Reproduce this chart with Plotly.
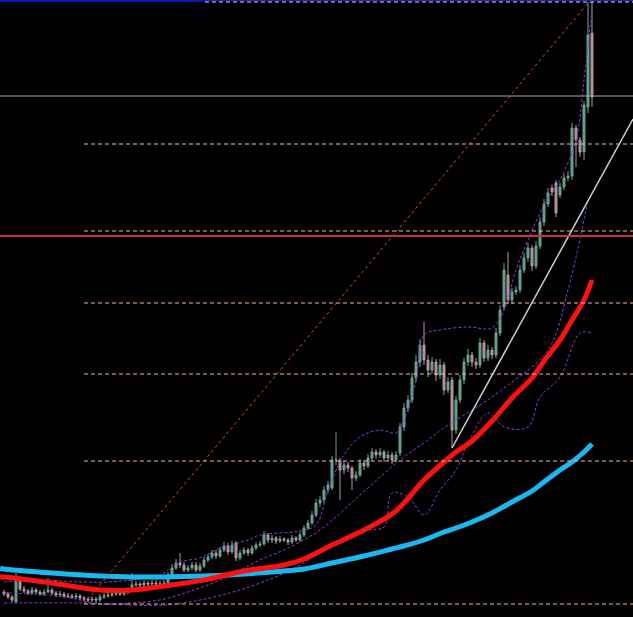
import plotly.graph_objects as go

# ---------------- data (price units) ----------------
bar_index = list(range(148))

opens = [25,23,20,15,37,28,26,24,27,25,23,25,27,24,22,23,21,21,20,21,19,18,17,18,17,
         20,21,22,23,24,23,25,27,32,33,32,34,33,34,33,33,
         34,42,49,54,52,47,49,52,47,51,57,60,64,61,67,71,65,74,59,64,67,64,69,72,
         73,82,77,79,76,78,77,75,79,77,82,89,94,102,114,117,127,
         129,157,157,147,152,149,139,142,154,151,159,165,162,165,159,162,157,
         164,190,209,217,239,255,272,257,247,255,242,252,227,237,187,217,237,255,262,255,252,274,259,267,
         262,284,310,342,317,325,327,347,359,369,351,
         371,395,413,429,434,422,430,439,441,489,477,465,510,584]
highs = [27,25,22,44,39,31,28,30,29,27,28,39,29,26,26,25,24,23,24,23,21,20,21,20,23,
         24,25,26,27,26,28,30,44,36,35,37,36,37,37,36,37,
         45,53,58,64,55,52,55,55,54,60,63,67,67,70,75,74,76,76,67,70,69,72,75,76,
         86,84,82,81,81,80,79,82,81,85,92,97,106,118,121,131,136,
         161,185,159,156,155,151,146,158,157,163,169,168,169,167,166,165,166,
         194,214,222,244,262,278,295,262,260,258,258,255,240,240,221,242,259,268,265,259,279,277,272,270,
         289,312,354,365,329,331,352,364,374,372,376,
         400,418,429,432,437,434,443,446,494,492,480,516,615,615]
lows = [21,18,15,14,26,24,22,22,23,21,21,24,22,20,20,19,19,18,18,17,16,15,15,14,15,
        18,19,20,21,21,21,23,25,30,30,30,31,31,31,31,31,
        32,40,47,49,45,45,47,45,45,49,55,58,58,59,65,62,63,56,57,62,61,62,67,70,
        71,74,74,73,74,75,72,73,75,75,80,87,92,100,110,114,124,
        127,152,117,143,145,127,136,140,147,149,156,158,159,155,156,153,155,
        161,186,205,214,235,250,252,240,243,236,238,222,224,169,183,214,233,251,250,248,249,255,256,258,
        259,281,307,313,313,322,324,344,355,346,348,
        368,391,410,421,400,419,427,436,437,450,460,457,504,510]
closes = [23,20,17,37,28,26,24,27,25,23,25,27,24,22,23,21,21,20,21,19,18,17,18,17,20,
          21,22,23,24,23,25,27,32,33,32,34,33,34,33,33,34,
          42,49,54,52,47,49,52,47,51,57,60,64,61,67,71,65,72,59,64,67,64,69,72,73,
          82,77,79,76,78,77,75,79,77,82,89,94,102,114,117,127,132,
          157,157,147,152,149,139,142,154,151,159,165,162,165,159,162,157,162,
          190,209,217,239,255,272,257,247,255,242,252,227,235,187,217,237,255,262,255,252,274,259,267,262,
          284,307,347,317,325,327,347,359,369,351,371,
          395,413,424,425,404,430,439,441,489,477,465,512,582,520]

ma_index = [-1,0,12,24,32,40,50,60,70,75,82,90,97,100,105,110,113,117,122,127,132,135,139,142,145,147]
ma_slow_red = [40,40,34,27,27,31,37,46,52,58,72,87,103,114,137,155,165,176,196,219,239,256,277,297,317,337]
ma_long_cyan = [49,48,44,41,40,40,41,43,46,48,54,61,68,71,77,85,89,95,104,115,126,135,147,155,165,173]

# band lines
upper_index = [0,9,19,26,32,39,44,49,54,61,64,74,78,81,85,89,94,98,100,103,105,109,116,122,125,128,131,135,139,143,145,147]
upper_band = [35,37,35,35,37,42,55,59,69,77,82,86,92,127,162,180,187,184,197,237,282,287,290,289,307,347,377,412,437,477,537,607]
lower1_index = [0,14,24,32,39,46,54,64,71,79,89,99,106,111,119,126,136,141,146]
lower1_band = [24,21,13,14,17,25,37,57,69,87,122,157,177,192,212,232,267,327,417]
lower2_index = [0,19,32,40,49,59,69,74,84,91,95,97,101,105,109,113,116,121,125,131,134,139,144,147]
lower2_band = [14,14,12,12,17,27,42,52,77,87,90,124,120,102,127,147,174,204,190,190,220,240,284,284]

fib_levels = [615, 473, 386, 314, 243, 156, 13]
fib_start = 20
fib_diag_index = [20, 146]
fib_diag_price = [13, 614]
trend_index = [112, 157.25]
trend_price = [169, 498]
bid_price = 521
red_level = 381
top_price = 616.5

fig = go.Figure()

fig.add_trace(go.Candlestick(
    x=bar_index, open=opens, high=highs, low=lows, close=closes,
    increasing=dict(line=dict(color="#6aa896", width=1), fillcolor="#5a9a86"),
    decreasing=dict(line=dict(color="#b898a6", width=1), fillcolor="#b08a9a"),
    whiskerwidth=0, hoverinfo="skip"))

band_style = dict(color="#8e3ad8", width=1, dash="3px,2px")
fig.add_trace(go.Scatter(x=upper_index, y=upper_band, mode="lines", line=dict(shape="spline", **band_style), hoverinfo="skip"))
fig.add_trace(go.Scatter(x=lower1_index, y=lower1_band, mode="lines", line=dict(shape="spline", **band_style), hoverinfo="skip"))
fig.add_trace(go.Scatter(x=lower2_index, y=lower2_band, mode="lines", line=dict(shape="spline", **band_style), hoverinfo="skip"))

fig.add_trace(go.Scatter(x=ma_index, y=ma_long_cyan, mode="lines",
                         line=dict(color="#1ab8f0", width=5, shape="spline"), hoverinfo="skip"))
fig.add_trace(go.Scatter(x=ma_index, y=ma_slow_red, mode="lines",
                         line=dict(color="#ff1010", width=5, shape="spline"), hoverinfo="skip"))

# fib diagonal and trendline
fig.add_trace(go.Scatter(x=fib_diag_index, y=fib_diag_price, mode="lines",
                         line=dict(color="#e8442c", width=1, dash="3px,3px"), hoverinfo="skip"))
fig.add_trace(go.Scatter(x=trend_index, y=trend_price, mode="lines",
                         line=dict(color="#d0d0d0", width=1.5), hoverinfo="skip"))

shapes = []
# fib levels
for lv in fib_levels[1:]:
    shapes.append(dict(type="line", xref="x", yref="y", x0=fib_start, x1=160, y0=lv, y1=lv,
                       line=dict(color="#f6b898", width=1, dash="4px,3px")))
# top
shapes.append(dict(type="line", xref="paper", yref="y", x0=0, x1=1, y0=top_price, y1=top_price,
                   line=dict(color="#2020c8", width=1)))
shapes.append(dict(type="line", xref="paper", yref="y", x0=0, x1=205/633, y0=top_price, y1=top_price,
                   line=dict(color="#1414b4", width=3)))
shapes.append(dict(type="line", xref="paper", yref="y", x0=205/633, x1=1, y0=fib_levels[0], y1=fib_levels[0],
                   line=dict(color="#e8e0ff", width=1, dash="4px,3px")))
# bid line and red level
shapes.append(dict(type="line", xref="paper", yref="y", x0=0, x1=1, y0=bid_price, y1=bid_price,
                   line=dict(color="#a8a8b0", width=1)))
shapes.append(dict(type="line", xref="paper", yref="y", x0=0, x1=1, y0=red_level, y1=red_level,
                   line=dict(color="#c8304a", width=2)))

fig.update_layout(
    width=633, height=617, margin=dict(l=0, r=0, t=0, b=0),
    paper_bgcolor="#000000", plot_bgcolor="#000000",
    showlegend=False, shapes=shapes,
    xaxis=dict(range=[-1, 157.25], visible=False, showgrid=False, zeroline=False, rangeslider=dict(visible=False)),
    yaxis=dict(range=[0, 617], visible=False, showgrid=False, zeroline=False),
)

fig.write_html("out.html", config={"displayModeBar": False},
               post_script="document.body.style.margin='0';document.body.style.background='#000';")
